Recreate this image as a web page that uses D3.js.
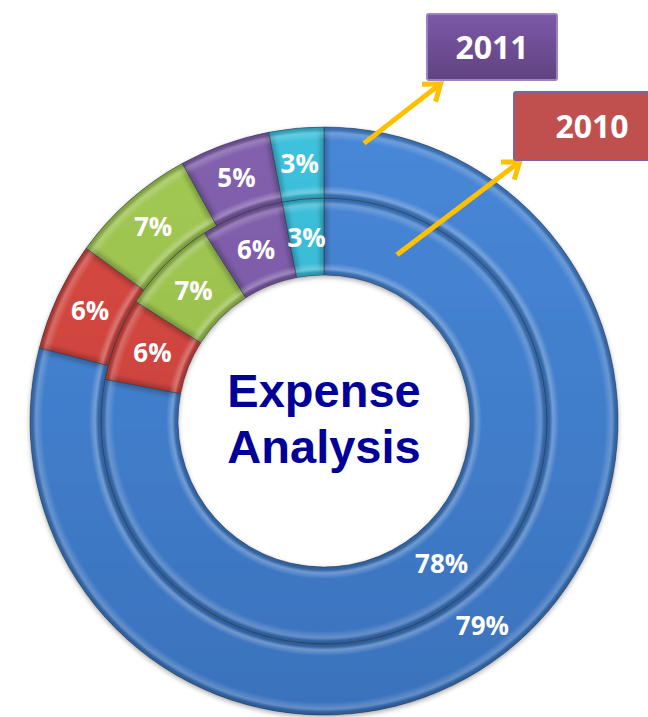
<!DOCTYPE html>
<html>
<head>
<meta charset="utf-8">
<script src="https://cdn.jsdelivr.net/npm/d3@7"></script>
<style>
  body { margin: 0; background: #fff; }
  svg { display: block; }
</style>
</head>
<body>
<script>
/* CONSTANTS AND GLOBALS */
const width = 648;
const height = 717;
const cx = 324, cy = 421;
const rHole = 146, rMid = 223, rOuter = 294;

/* DATA */
const categories = ["Item A", "Item B", "Item C", "Item D", "Item E"];
const years = ["2010", "2011"];
const values2010 = [78, 6, 7, 6, 3];   // inner ring
const values2011 = [79, 6, 7, 5, 3];   // outer ring
const centerTitle = ["Expense", "Analysis"];

// slice colours, top (light) -> bottom (dark)
const colorTop = ["#4888d8", "#d84b45", "#a3c954", "#8361ae", "#3ec2de"];
const colorBot = ["#3a72bc", "#c23c37", "#90b447", "#71509c", "#2ea8c4"];

const svg = d3.select("body").append("svg")
    .attr("width", width)
    .attr("height", height);

const defs = svg.append("defs");

// vertical gradients per category (page coords)
categories.forEach((c, i) => {
    const g = defs.append("linearGradient")
        .attr("id", "grad" + i)
        .attr("gradientUnits", "userSpaceOnUse")
        .attr("x1", 0).attr("x2", 0)
        .attr("y1", -rOuter).attr("y2", rOuter);
    g.append("stop").attr("offset", 0).attr("stop-color", colorTop[i]);
    g.append("stop").attr("offset", 1).attr("stop-color", colorBot[i]);
    const e = defs.append("linearGradient")
        .attr("id", "edge" + i)
        .attr("gradientUnits", "userSpaceOnUse")
        .attr("x1", 0).attr("x2", 0)
        .attr("y1", -rOuter).attr("y2", rOuter);
    e.append("stop").attr("offset", 0).attr("stop-color", d3.color(colorTop[i]).darker(0.7));
    e.append("stop").attr("offset", 1).attr("stop-color", d3.color(colorBot[i]).darker(0.7));
});

// highlight bands at both radial edges of a ring
function bevel(id, r0, r1) {
    const g = defs.append("radialGradient")
        .attr("id", id)
        .attr("gradientUnits", "userSpaceOnUse")
        .attr("cx", 0).attr("cy", 0).attr("r", r1)
        .attr("fx", 0).attr("fy", 0);
    const a = r0 / r1;
    const stops = [
        [a, "#fff", 0.0],
        [a + 3 / r1, "#fff", 0.0],
        [a + 6 / r1, "#fff", 0.28],
        [a + 12 / r1, "#fff", 0.0],
        [1 - 13 / r1, "#fff", 0.0],
        [1 - 6 / r1, "#fff", 0.22],
        [1 - 3 / r1, "#fff", 0.0],
        [1, "#fff", 0.0]
    ];
    stops.forEach(s => g.append("stop")
        .attr("offset", s[0]).attr("stop-color", s[1]).attr("stop-opacity", s[2]));
}
bevel("bevelInner", rHole, rMid);
bevel("bevelOuter", rMid, rOuter);

const shadow = defs.append("filter").attr("id", "shadow")
    .attr("x", "-10%").attr("y", "-10%").attr("width", "120%").attr("height", "120%");
shadow.append("feDropShadow")
    .attr("dx", 0).attr("dy", 2).attr("stdDeviation", 2.5)
    .attr("flood-color", "#000").attr("flood-opacity", 0.35);

const soft = defs.append("filter").attr("id", "soft")
    .attr("x", "-20%").attr("y", "-20%").attr("width", "140%").attr("height", "140%");
soft.append("feGaussianBlur").attr("stdDeviation", 2.2);

/* PIE */
const pie = d3.pie().sort(null).value(d => d);

const rings = [
    { year: "2010", values: values2010, r0: rHole, r1: rMid, bevel: "bevelInner" },
    { year: "2011", values: values2011, r0: rMid, r1: rOuter, bevel: "bevelOuter" }
];

const chart = svg.append("g")
    .attr("transform", "translate(" + cx + "," + cy + ")");

// shadow layer
const shadowLayer = chart.append("g").attr("filter", "url(#shadow)");
rings.forEach(ring => {
    const arc = d3.arc().innerRadius(ring.r0).outerRadius(ring.r1);
    shadowLayer.selectAll(null)
        .data(pie(ring.values))
        .enter()
        .append("path")
        .attr("d", arc)
        .attr("fill", "#888");
});

rings.forEach(ring => {
    const arc = d3.arc().innerRadius(ring.r0).outerRadius(ring.r1);
    const inset = d3.arc().innerRadius(ring.r0 + 4).outerRadius(ring.r1 - 4)
        .padRadius(ring.r1).padAngle(8 / ring.r1);
    const arcs = pie(ring.values);
    const g = chart.append("g").attr("class", "ring ring-" + ring.year);

    arcs.forEach((d, i) => {
        const id = "clip" + ring.year + "_" + i;
        defs.append("clipPath").attr("id", id)
            .append("path")
            .attr("transform", "translate(" + cx + "," + cy + ")")
            .attr("d", arc(d));

        const s = g.append("g").attr("class", "slice");
        s.append("path")
            .attr("d", arc(d))
            .attr("fill", "url(#edge" + i + ")");
        const c = s.append("g")
            .attr("transform", "translate(" + (-cx) + "," + (-cy) + ")")
            .attr("clip-path", "url(#" + id + ")")
            .append("g")
            .attr("transform", "translate(" + cx + "," + cy + ")");
        c.append("path")
            .attr("d", inset(d))
            .attr("fill", "url(#grad" + i + ")")
            .attr("filter", "url(#soft)");
        s.append("path")
            .attr("d", arc(d))
            .attr("fill", "url(#" + ring.bevel + ")");
        s.append("path")
            .attr("d", arc(d))
            .attr("fill", "none")
            .attr("stroke", "#1e2f45")
            .attr("stroke-opacity", 0.55)
            .attr("stroke-width", 0.8);
    });
});

// labels
rings.forEach(ring => {
    const arc = d3.arc().innerRadius(ring.r0).outerRadius(ring.r1);
    chart.selectAll(".lbl-" + ring.year)
        .data(pie(ring.values))
        .enter()
        .append("text")
        .attr("class", "lbl-" + ring.year)
        .attr("transform", d => "translate(" + arc.centroid(d) + ")")
        .attr("dy", "0.36em")
        .attr("text-anchor", "middle")
        .attr("font-family", "'Open Sans', 'Noto Sans', sans-serif")
        .attr("font-weight", "bold")
        .attr("font-size", 26)
        .attr("fill", "#fff")
        .text(d => d.data + "%");
});

// center title
chart.selectAll(".title")
    .data(centerTitle)
    .enter()
    .append("text")
    .attr("class", "title")
    .attr("x", 0)
    .attr("y", (d, i) => -14 + i * 56)
    .attr("text-anchor", "middle")
    .attr("font-family", "'Liberation Sans', Arial, sans-serif")
    .attr("font-weight", "bold")
    .attr("font-size", 47)
    .attr("fill", "#000099")
    .text(d => d);

/* YEAR TAGS + ARROWS */
const g2011 = defs.append("linearGradient").attr("id", "box2011")
    .attr("x1", 0).attr("x2", 0).attr("y1", 0).attr("y2", 1);
g2011.append("stop").attr("offset", 0).attr("stop-color", "#7d59a8");
g2011.append("stop").attr("offset", 1).attr("stop-color", "#604281");

const tags = [
    { year: "2011", x: 427, y: 14, w: 130, h: 66, fill: "url(#box2011)", stroke: "#9b82c0", ring: rings[1], angle: 8.2, tipDx: 16, tipDy: 2, tx: 492 },
    { year: "2010", x: 514, y: 92, w: 140, h: 68, fill: "#c0504d", stroke: "#7d62a4", ring: rings[0], angle: 23.7, tipDx: 8, tipDy: 0, tx: 592 }
];

defs.append("marker")
    .attr("id", "chev")
    .attr("markerUnits", "userSpaceOnUse")
    .attr("viewBox", "-20 -14 24 28")
    .attr("markerWidth", 24).attr("markerHeight", 28)
    .attr("refX", 0).attr("refY", 0)
    .attr("orient", "auto")
    .style("overflow", "visible")
    .append("path")
    .attr("d", "M-15,-11 L0,0 L-15,11")
    .attr("fill", "none")
    .attr("stroke", "#ffc000")
    .attr("stroke-width", 5)
    .attr("stroke-linejoin", "miter");

tags.forEach(t => {
    const rr = (t.ring.r0 + t.ring.r1) / 2 + (t.year === "2011" ? 22 : -3);
    const a = t.angle * Math.PI / 180;
    const x0 = cx + rr * Math.sin(a), y0 = cy - rr * Math.cos(a);
    const x1 = t.x + t.tipDx, y1 = t.y + t.h + t.tipDy;
    const len = Math.hypot(x1 - x0, y1 - y0);
    const k = (len - 3) / len;
    svg.append("line")
        .attr("x1", x0).attr("y1", y0)
        .attr("x2", x0 + (x1 - x0) * k).attr("y2", y0 + (y1 - y0) * k)
        .attr("stroke", "#ffc000")
        .attr("stroke-width", 5)
        .attr("marker-end", "url(#chev)");

    svg.append("rect")
        .attr("x", t.x).attr("y", t.y)
        .attr("width", t.w).attr("height", t.h)
        .attr("rx", 2)
        .attr("fill", t.fill)
        .attr("stroke", t.stroke)
        .attr("stroke-width", 2);

    svg.append("text")
        .attr("x", t.tx)
        .attr("y", t.y + t.h / 2)
        .attr("dy", "0.36em")
        .attr("text-anchor", "middle")
        .attr("font-family", "'Open Sans', 'Noto Sans', sans-serif")
        .attr("font-weight", "bold")
        .attr("font-size", 32)
        .attr("fill", "#fff")
        .text(t.year);
});
</script>
</body>
</html>
